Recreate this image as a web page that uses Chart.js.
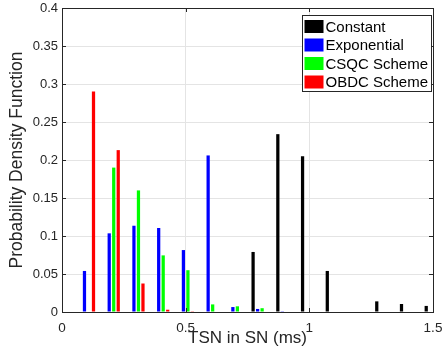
<!DOCTYPE html>
<html>
<head>
<meta charset="utf-8">
<script src="https://cdn.jsdelivr.net/npm/chart.js@4/dist/chart.umd.min.js"></script>
<style>
  html, body { margin: 0; padding: 0; background: #fff; }
  #wrap { width: 443px; height: 354px; }
</style>
</head>
<body>
<div id="wrap"><canvas id="pdf"></canvas></div>
<script>
// bin centres (ms)
const bins = [0.1, 0.2, 0.3, 0.4, 0.5, 0.6, 0.7, 0.8, 0.9, 1.0, 1.1, 1.2, 1.3, 1.4, 1.5];

// probability per bin
const constant    = [0, 0, 0, 0, 0, 0, 0, 0.079, 0.234, 0.205, 0.054, 0, 0.014, 0.0105, 0.008];
const exponential = [0.054, 0.1035, 0.1135, 0.1105, 0.0815, 0.206, 0.0065, 0.004, 0.001, 0, 0, 0, 0, 0, 0];
const csqc        = [0, 0.19, 0.16, 0.0745, 0.055, 0.010, 0.0075, 0.005, 0, 0, 0, 0, 0, 0, 0];
const obdc        = [0.29, 0.213, 0.0375, 0.003, 0.001, 0, 0, 0, 0, 0, 0, 0, 0, 0, 0];

const seriesNames = ['Constant', 'Exponential', 'CSQC Scheme', 'OBDC Scheme'];
const seriesColors = ['#000000', '#0000ff', '#00ff00', '#ff0000'];

const xTicks = [0, 0.5, 1, 1.5];
const yTicks = [0, 0.05, 0.1, 0.15, 0.2, 0.25, 0.3, 0.35, 0.4];

const FONT = "'Liberation Sans', Arial, sans-serif";
const AXIS = '#262626';

function toPoints(vals) {
    return bins.map((b, i) => ({ x: b, y: vals[i] }));
}

// box round the plot + inward tick marks (matlab style)
const boxPlugin = {
    id: 'boxPlugin',
    afterDatasetsDraw(chart) {
        const { ctx, chartArea: a, scales } = chart;
        ctx.save();
        ctx.strokeStyle = AXIS;
        ctx.lineWidth = 1;
        ctx.beginPath();
        yTicks.forEach(v => {
            const y = Math.round(scales.y.getPixelForValue(v)) + 0.5;
            ctx.moveTo(a.left, y); ctx.lineTo(a.left + 4, y);
            ctx.moveTo(a.right, y); ctx.lineTo(a.right - 4, y);
        });
        xTicks.forEach(v => {
            const x = Math.round(scales.x.getPixelForValue(v)) + 0.5;
            ctx.moveTo(x, a.bottom); ctx.lineTo(x, a.bottom - 4);
            ctx.moveTo(x, a.top); ctx.lineTo(x, a.top + 4);
        });
        ctx.stroke();
        ctx.strokeRect(Math.round(a.left) + 0.5, Math.round(a.top) + 0.5,
            Math.round(a.right - a.left), Math.round(a.bottom - a.top));
        ctx.restore();
    }
};

// legend drawn inside the top right corner of the axes
const insideLegend = {
    id: 'insideLegend',
    afterDraw(chart) {
        const { ctx, chartArea: a } = chart;
        const w = 129, h = 76;
        const x0 = Math.round(a.right) - 130.5, y0 = Math.round(a.top) + 7.5;
        ctx.save();
        ctx.fillStyle = '#ffffff';
        ctx.fillRect(x0, y0, w, h);
        ctx.strokeStyle = AXIS;
        ctx.lineWidth = 1;
        ctx.strokeRect(x0, y0, w, h);
        ctx.font = '15px ' + FONT;
        ctx.textBaseline = 'middle';
        chart.data.datasets.forEach((ds, i) => {
            const cy = y0 + 11 + i * 18.5;
            ctx.fillStyle = ds.backgroundColor;
            ctx.fillRect(x0 + 2, cy - 6.5, 19, 13);
            ctx.fillStyle = '#000000';
            ctx.fillText(ds.label, x0 + 23, cy + 1);
        });
        ctx.restore();
    }
};

new Chart(document.getElementById('pdf'), {
    type: 'bar',
    data: {
        datasets: seriesNames.map((name, i) => ({
            label: name,
            data: toPoints([constant, exponential, csqc, obdc][i]),
            backgroundColor: seriesColors[i],
            borderWidth: 0,
            categoryPercentage: 0.73,
            barPercentage: 0.72
        }))
    },
    options: {
        responsive: true,
        maintainAspectRatio: false,
        animation: false,
        layout: { padding: { top: 8, right: 10, left: 0, bottom: 0 } },
        plugins: { legend: { display: false }, tooltip: { enabled: false } },
        scales: {
            x: {
                type: 'linear',
                offset: false,
                min: 0,
                max: 1.5,
                afterBuildTicks: s => { s.ticks = xTicks.map(v => ({ value: v })); },
                afterFit: s => { s.height = 42; s.paddingLeft = 0; s.paddingRight = 0; },
                grid: { color: '#e4e4e4', drawTicks: false, offset: false },
                border: { display: false },
                ticks: {
                    padding: 8,
                    color: AXIS,
                    font: { family: FONT, size: 13.5 },
                    maxRotation: 0,
                    callback: v => String(v)
                },
                title: {
                    display: true,
                    text: 'TSN in SN (ms)',
                    color: AXIS,
                    font: { family: FONT, size: 17 },
                    padding: { top: 0, bottom: 5 }
                }
            },
            y: {
                min: 0,
                max: 0.4,
                afterBuildTicks: s => { s.ticks = yTicks.map(v => ({ value: v })); },
                afterFit: s => { s.width = 62; s.paddingTop = 0; s.paddingBottom = 0; },
                grid: { color: '#e4e4e4', drawTicks: false },
                border: { display: false },
                ticks: {
                    padding: 4,
                    color: AXIS,
                    font: { family: FONT, size: 13 },
                    callback: v => String(+v.toFixed(2))
                },
                title: {
                    display: true,
                    text: 'Probability Density Function',
                    color: AXIS,
                    font: { family: FONT, size: 17.5 },
                    padding: { top: 7, bottom: 0 }
                }
            }
        }
    },
    plugins: [boxPlugin, insideLegend]
});
</script>
</body>
</html>
